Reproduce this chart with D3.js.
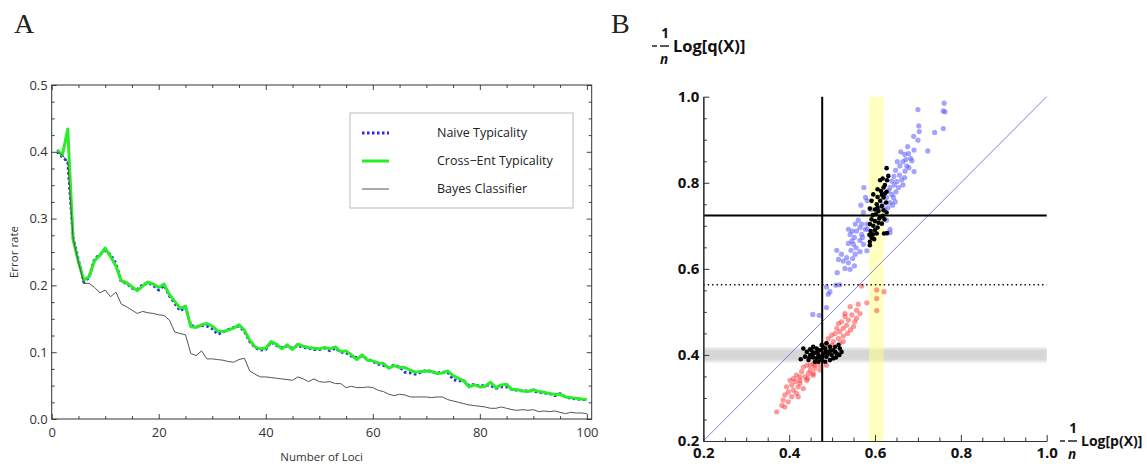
<!DOCTYPE html>
<html>
<head>
<meta charset="utf-8">
<script src="https://cdn.jsdelivr.net/npm/d3@7"></script>
<style>
  body { margin: 0; background: #fff; }
  text { font-family: "Open Sans", sans-serif; }
</style>
</head>
<body>
<script>
// ---- panel A data: error rate vs number of loci
const loci = d3.range(1, 101);
const naiveTyp = [
  0.400, 0.392, 0.385, 0.272, 0.238, 0.205, 0.212, 0.240, 0.246, 0.252,
  0.246, 0.233, 0.205, 0.203, 0.196, 0.194, 0.201, 0.204, 0.200, 0.193,
  0.200, 0.184, 0.173, 0.162, 0.167, 0.140, 0.138, 0.140, 0.139, 0.135,
  0.127, 0.130, 0.134, 0.137, 0.139, 0.131, 0.116, 0.107, 0.103, 0.104,
  0.115, 0.110, 0.107, 0.109, 0.106, 0.110, 0.107, 0.106, 0.104, 0.104,
  0.106, 0.102, 0.106, 0.100, 0.099, 0.094, 0.092, 0.094, 0.090, 0.086,
  0.082, 0.080, 0.077, 0.081, 0.078, 0.070, 0.069, 0.067, 0.070, 0.073,
  0.071, 0.069, 0.070, 0.070, 0.059, 0.057, 0.057, 0.050, 0.052, 0.049,
  0.051, 0.050, 0.046, 0.048, 0.048, 0.044, 0.043, 0.042, 0.042, 0.042,
  0.040, 0.039, 0.038, 0.035, 0.038, 0.033, 0.031, 0.030, 0.029, 0.029
];
const crossEntTyp = [
  0.403, 0.395, 0.434, 0.268, 0.235, 0.208, 0.213, 0.237, 0.245, 0.256,
  0.243, 0.229, 0.207, 0.204, 0.198, 0.192, 0.199, 0.205, 0.202, 0.197,
  0.202, 0.186, 0.176, 0.166, 0.169, 0.138, 0.137, 0.141, 0.143, 0.139,
  0.132, 0.131, 0.133, 0.136, 0.141, 0.133, 0.118, 0.108, 0.105, 0.106,
  0.116, 0.112, 0.105, 0.111, 0.104, 0.112, 0.109, 0.107, 0.106, 0.105,
  0.107, 0.105, 0.108, 0.101, 0.102, 0.096, 0.089, 0.096, 0.088, 0.087,
  0.084, 0.083, 0.076, 0.080, 0.077, 0.077, 0.073, 0.070, 0.071, 0.072,
  0.071, 0.068, 0.069, 0.072, 0.065, 0.061, 0.057, 0.048, 0.051, 0.048,
  0.049, 0.055, 0.047, 0.051, 0.052, 0.044, 0.044, 0.042, 0.041, 0.044,
  0.041, 0.040, 0.038, 0.037, 0.037, 0.033, 0.032, 0.031, 0.030, 0.029
];
const bayesClf = [
  0.400, 0.395, 0.385, 0.270, 0.235, 0.203, 0.203, 0.197, 0.189, 0.193,
  0.183, 0.190, 0.172, 0.168, 0.163, 0.158, 0.161, 0.159, 0.158, 0.156,
  0.155, 0.148, 0.130, 0.128, 0.126, 0.098, 0.095, 0.102, 0.090, 0.090,
  0.089, 0.088, 0.086, 0.085, 0.089, 0.091, 0.072, 0.067, 0.063, 0.063,
  0.062, 0.061, 0.060, 0.059, 0.058, 0.063, 0.060, 0.056, 0.060, 0.056,
  0.055, 0.056, 0.053, 0.053, 0.047, 0.049, 0.047, 0.047, 0.048, 0.047,
  0.043, 0.041, 0.037, 0.035, 0.037, 0.036, 0.033, 0.033, 0.033, 0.033,
  0.032, 0.033, 0.033, 0.029, 0.027, 0.025, 0.023, 0.021, 0.020, 0.019,
  0.018, 0.016, 0.016, 0.018, 0.016, 0.014, 0.013, 0.014, 0.013, 0.014,
  0.011, 0.012, 0.011, 0.012, 0.010, 0.008, 0.010, 0.009, 0.009, 0.008
];
const seriesNames = ["Naive Typicality", "Cross\u2212Ent Typicality", "Bayes Classifier"];
const xTicksA = [0, 20, 40, 60, 80, 100];
const yTicksA = [0.0, 0.1, 0.2, 0.3, 0.4, 0.5];

// ---- panel B data: [-1/n log p(X), -1/n log q(X)]
const bluePts = [
  [0.761,0.985],[0.759,0.967],[0.763,0.965],[0.759,0.926],[0.700,0.970],[0.702,0.932],[0.703,0.919],
  [0.739,0.917],[0.690,0.908],[0.700,0.899],[0.676,0.884],[0.691,0.876],[0.723,0.874],[0.660,0.872],
  [0.669,0.866],[0.678,0.868],[0.683,0.857],[0.686,0.851],[0.672,0.854],[0.665,0.849],[0.652,0.849],
  [0.658,0.839],[0.674,0.839],[0.679,0.835],[0.691,0.826],[0.670,0.827],[0.648,0.829],[0.644,0.815],
  [0.657,0.818],[0.669,0.812],[0.662,0.807],[0.651,0.803],[0.639,0.804],[0.645,0.795],[0.665,0.795],
  [0.655,0.789],[0.635,0.789],[0.632,0.781],[0.649,0.779],[0.639,0.773],[0.627,0.766],[0.643,0.766],
  [0.635,0.754],[0.641,0.748],[0.647,0.756],[0.630,0.742],[0.622,0.738],[0.574,0.789],[0.578,0.766],
  [0.582,0.758],[0.567,0.748],[0.573,0.731],[0.591,0.738],[0.612,0.742],[0.619,0.750],[0.581,0.704],
  [0.561,0.713],[0.569,0.704],[0.554,0.704],[0.565,0.696],[0.557,0.688],[0.547,0.688],[0.538,0.692],
  [0.569,0.680],[0.552,0.673],[0.565,0.666],[0.546,0.665],[0.538,0.659],[0.573,0.657],[0.556,0.649],
  [0.544,0.643],[0.554,0.634],[0.565,0.640],[0.581,0.642],[0.548,0.624],[0.534,0.626],[0.526,0.618],
  [0.538,0.614],[0.552,0.607],[0.542,0.599],[0.530,0.601],[0.515,0.622],[0.511,0.643],[0.522,0.634],
  [0.512,0.591],[0.582,0.692],[0.542,0.680],[0.635,0.684],[0.627,0.713],[0.635,0.692],[0.577,0.692],
  [0.571,0.673],[0.550,0.657],[0.487,0.558],[0.495,0.547],[0.491,0.541],[0.518,0.563],[0.509,0.562],
  [0.487,0.510],[0.455,0.494],[0.470,0.492]
];
const redPts = [
  [0.604,0.551],[0.621,0.547],[0.604,0.531],[0.604,0.503],[0.569,0.560],[0.581,0.521],[0.561,0.518],
  [0.557,0.504],[0.542,0.512],[0.565,0.496],[0.546,0.493],[0.530,0.496],[0.538,0.481],[0.553,0.477],
  [0.522,0.477],[0.515,0.473],[0.534,0.469],[0.550,0.466],[0.526,0.462],[0.511,0.462],[0.518,0.454],
  [0.536,0.450],[0.543,0.458],[0.507,0.450],[0.499,0.446],[0.526,0.444],[0.515,0.438],[0.491,0.438],
  [0.503,0.431],[0.526,0.431],[0.487,0.427],[0.518,0.427],[0.484,0.419],[0.499,0.423],[0.476,0.423],
  [0.464,0.384],[0.456,0.380],[0.449,0.376],[0.441,0.376],[0.472,0.376],[0.460,0.369],[0.433,0.372],
  [0.449,0.365],[0.429,0.361],[0.445,0.357],[0.425,0.349],[0.417,0.353],[0.456,0.353],[0.410,0.345],
  [0.437,0.349],[0.402,0.341],[0.414,0.338],[0.425,0.334],[0.441,0.341],[0.406,0.330],[0.421,0.326],
  [0.394,0.326],[0.433,0.322],[0.410,0.318],[0.398,0.314],[0.417,0.311],[0.390,0.307],[0.406,0.303],
  [0.421,0.303],[0.386,0.295],[0.398,0.291],[0.383,0.283],[0.390,0.279],[0.371,0.268],[0.456,0.357],
  [0.468,0.388],[0.480,0.396],[0.487,0.376],[0.472,0.365],[0.460,0.376],[0.443,0.345],[0.425,0.341],
  [0.499,0.411],[0.491,0.407],[0.530,0.489],[0.557,0.485]
];
const blackHigh = [
  [0.627,0.834],[0.631,0.816],[0.618,0.810],[0.612,0.806],[0.628,0.806],[0.623,0.795],[0.620,0.789],
  [0.606,0.785],[0.614,0.781],[0.627,0.779],[0.596,0.773],[0.606,0.767],[0.620,0.766],[0.626,0.754],
  [0.592,0.758],[0.612,0.758],[0.604,0.750],[0.616,0.746],[0.588,0.740],[0.600,0.738],[0.608,0.734],
  [0.620,0.736],[0.627,0.731],[0.595,0.725],[0.602,0.727],[0.612,0.721],[0.622,0.715],[0.592,0.715],
  [0.600,0.711],[0.608,0.707],[0.616,0.705],[0.588,0.704],[0.596,0.700],[0.606,0.696],[0.590,0.688],
  [0.600,0.690],[0.595,0.680],[0.587,0.679],[0.604,0.682],[0.621,0.682],[0.628,0.683],[0.592,0.672],
  [0.588,0.663],[0.598,0.669],[0.588,0.655],[0.610,0.717],[0.618,0.723],[0.606,0.742],[0.623,0.775],
  [0.616,0.772]
];
const blackLow = [
  [0.433,0.415],[0.427,0.390],[0.441,0.407],[0.449,0.400],[0.452,0.411],[0.456,0.394],[0.460,0.405],
  [0.464,0.415],[0.468,0.400],[0.472,0.411],[0.476,0.423],[0.476,0.388],[0.480,0.403],[0.484,0.415],
  [0.487,0.396],[0.491,0.407],[0.495,0.419],[0.495,0.388],[0.499,0.400],[0.503,0.411],[0.507,0.419],
  [0.511,0.403],[0.518,0.415],[0.522,0.407],[0.515,0.423],[0.468,0.384],[0.460,0.384],[0.445,0.388],
  [0.456,0.419],[0.484,0.384],[0.487,0.427],[0.503,0.392],[0.472,0.394],[0.464,0.392],[0.449,0.413],
  [0.437,0.396],[0.455,0.402],[0.490,0.402],[0.509,0.394],[0.480,0.417],[0.466,0.407],[0.497,0.410],
  [0.477,0.396],[0.485,0.407],[0.507,0.407],[0.517,0.400],[0.447,0.394]
];
const yellowBand = [0.586, 0.62];   // x range
const grayBand = [0.381, 0.419];    // y range
const vLineP = 0.477, hLineQ = 0.724, dottedQ = 0.563;
const ticksB = [0.2, 0.4, 0.6, 0.8, 1.0];

const svg = d3.select("body").append("svg")
    .attr("width", 1147)
    .attr("height", 466);

// =============== Panel A ===============
const xA = d3.scaleLinear().domain([0, 100.9]).range([51.7, 591.7]);
const yA = d3.scaleLinear().domain([0, 0.5]).range([419, 85]);
const gA = svg.append("g").attr("id", "panel-a");

svg.append("text").attr("x", 14).attr("y", 33)
    .style("font-family", "'Liberation Serif', serif").attr("font-size", 28)
    .attr("fill", "#222").text("A");

// frame ticks on all four sides (inward)
function frameAxis(axisFn, scale, ticks, size, withLabels, transform) {
  const ax = axisFn(scale).tickValues(ticks).tickSizeInner(-size).tickSizeOuter(0);
  if (!withLabels) ax.tickFormat("");
  else ax.tickFormat(d3.format(".1f"));
  const g = gA.append("g").attr("transform", transform).call(ax);
  g.select(".domain").remove();
  g.selectAll("line").attr("stroke", "#444");
  g.selectAll("text").attr("font-size", 13).attr("fill", "#333")
    .style("font-family", "'Open Sans', sans-serif");
  return g;
}
const xMinor = d3.range(0, 101, 5).filter(d => d % 20 !== 0);
const yMinor = d3.range(0, 0.5001, 0.025).filter((d, i) => i % 4 !== 0);

const xb = frameAxis(d3.axisBottom, xA, xTicksA, 5, true, "translate(0,419)");
xb.selectAll(".tick text").text(d => d).attr("y", 6).attr("dy", "0.95em");
frameAxis(d3.axisBottom, xA, xMinor, 3, false, "translate(0,419)");
frameAxis(d3.axisTop, xA, xTicksA, 5, false, "translate(0,85)");
frameAxis(d3.axisTop, xA, xMinor, 3, false, "translate(0,85)");
const yl = frameAxis(d3.axisLeft, yA, yTicksA, 5, true, "translate(51.7,0)");
yl.selectAll(".tick text").attr("x", -4);
frameAxis(d3.axisLeft, yA, yMinor, 3, false, "translate(51.7,0)");
frameAxis(d3.axisRight, yA, yTicksA, 5, false, "translate(591.7,0)");
frameAxis(d3.axisRight, yA, yMinor, 3, false, "translate(591.7,0)");

gA.append("rect")
    .attr("x", xA(0)).attr("y", yA(0.5))
    .attr("width", xA(100.9) - xA(0)).attr("height", yA(0) - yA(0.5))
    .attr("fill", "none").attr("stroke", "#333").attr("stroke-width", 1);

const lineA = d3.line().x((d, i) => xA(loci[i])).y(d => yA(d));
const styles = [
  {stroke: "rgb(40,40,235)", width: 2.8, dash: "2.5,2.5"},
  {stroke: "rgb(40,238,40)", width: 3, dash: null},
  {stroke: "#555", width: 1, dash: null}
];
[naiveTyp, crossEntTyp, bayesClf].forEach((s, k) => {
  gA.append("path").datum(s)
    .attr("d", lineA)
    .attr("fill", "none")
    .attr("stroke", styles[k].stroke)
    .attr("stroke-width", styles[k].width)
    .attr("stroke-dasharray", styles[k].dash)
    .attr("stroke-linejoin", "round");
});

// legend
const leg = gA.append("g").attr("transform", "translate(350,113)");
leg.append("rect").attr("width", 223).attr("height", 95)
    .attr("fill", "#fff").attr("stroke", "#bbb").attr("stroke-width", 1);
seriesNames.forEach((name, k) => {
  const y = 20 + k * 28;
  leg.append("line").attr("x1", 12).attr("x2", 39).attr("y1", y).attr("y2", y)
    .attr("stroke", styles[k].stroke).attr("stroke-width", styles[k].width)
    .attr("stroke-dasharray", styles[k].dash);
  leg.append("text").attr("x", 87).attr("y", y).attr("dy", "0.35em")
    .attr("font-size", 12.5).attr("fill", "#222").text(name);
});

gA.append("text")
    .attr("transform", "rotate(-90)")
    .attr("x", -252).attr("y", 18)
    .attr("font-size", 11.5).attr("fill", "#333")
    .style("text-anchor", "middle").text("Error rate");
gA.append("text")
    .attr("x", 321.7).attr("y", 461)
    .attr("font-size", 11.5).attr("fill", "#333")
    .style("text-anchor", "middle").text("Number of Loci");

// =============== Panel B ===============
const xB = d3.scaleLinear().domain([0.2, 1.0]).range([703.3, 1046.7]);
const yB = d3.scaleLinear().domain([0.2, 1.0]).range([441, 96.7]);
const gB = svg.append("g").attr("id", "panel-b");

svg.append("text").attr("x", 611).attr("y", 33)
    .style("font-family", "'Liberation Serif', serif").attr("font-size", 28)
    .attr("fill", "#222").text("B");

const defs = svg.append("defs");
const grad = defs.append("linearGradient").attr("id", "grayfade")
    .attr("x1", 0).attr("y1", 0).attr("x2", 0).attr("y2", 1);
grad.append("stop").attr("offset", "0%").attr("stop-color", "#d6d6d6").attr("stop-opacity", 0.2);
grad.append("stop").attr("offset", "25%").attr("stop-color", "#d6d6d6").attr("stop-opacity", 1);
grad.append("stop").attr("offset", "75%").attr("stop-color", "#d6d6d6").attr("stop-opacity", 1);
grad.append("stop").attr("offset", "100%").attr("stop-color", "#d6d6d6").attr("stop-opacity", 0.2);

gB.append("rect")
    .attr("x", xB(0.2)).attr("y", yB(grayBand[1]))
    .attr("width", xB(1.0) - xB(0.2)).attr("height", yB(grayBand[0]) - yB(grayBand[1]))
    .attr("fill", "url(#grayfade)");
gB.append("rect")
    .attr("x", xB(yellowBand[0])).attr("y", yB(1.0))
    .attr("width", xB(yellowBand[1]) - xB(yellowBand[0])).attr("height", yB(0.2) - yB(1.0))
    .attr("fill", "#ffff88").attr("opacity", 0.55);

gB.append("line")
    .attr("x1", xB(0.2)).attr("y1", yB(0.2)).attr("x2", xB(1.0)).attr("y2", yB(1.0))
    .attr("stroke", "rgb(125,125,240)").attr("stroke-width", 1);

function dots(data, fill, opacity, r) {
  gB.append("g").selectAll("circle").data(data).enter().append("circle")
    .attr("cx", d => xB(d[0])).attr("cy", d => yB(d[1]))
    .attr("r", r).attr("fill", fill).attr("opacity", opacity);
}
dots(redPts, "rgb(255,50,50)", 0.5, 2.6);
dots(bluePts, "rgb(80,80,255)", 0.52, 2.6);
dots(blackLow, "#000", 1, 2.3);
dots(blackHigh, "#000", 1, 2.3);

// reference lines
gB.append("line")
    .attr("x1", xB(0.2)).attr("x2", xB(1.0)).attr("y1", yB(dottedQ)).attr("y2", yB(dottedQ))
    .attr("stroke", "#000").attr("stroke-width", 1.4).attr("stroke-dasharray", "1.4,3");
gB.append("line")
    .attr("x1", xB(0.2)).attr("x2", xB(1.0)).attr("y1", yB(hLineQ)).attr("y2", yB(hLineQ))
    .attr("stroke", "#000").attr("stroke-width", 2);
gB.append("line")
    .attr("x1", xB(vLineP)).attr("x2", xB(vLineP)).attr("y1", yB(0.2)).attr("y2", yB(1.0))
    .attr("stroke", "#000").attr("stroke-width", 2);

// axes
const minorB = d3.range(0.2, 1.0001, 0.05).filter((d, i) => i % 4 !== 0);
function axisB(axisFn, ticks, size, labels, transform) {
  const sc = (axisFn === d3.axisBottom) ? xB : yB;
  const ax = axisFn(sc).tickValues(ticks).tickSizeInner(-size).tickSizeOuter(0)
    .tickFormat(labels ? d3.format(".1f") : "");
  const g = gB.append("g").attr("transform", transform).call(ax);
  g.select(".domain").attr("stroke", "#333").attr("stroke-width", 1.2);
  g.selectAll("line").attr("stroke", "#333");
  g.selectAll("text").attr("font-size", 15).attr("font-weight", "bold").attr("fill", "#111")
    .style("font-family", "'Open Sans', sans-serif");
  return g;
}
axisB(d3.axisBottom, minorB, 3.5, false, `translate(0,${yB(0.2)})`);
const bx = axisB(d3.axisBottom, ticksB, 6, true, `translate(0,${yB(0.2)})`);
bx.selectAll(".tick text").attr("y", 6);
axisB(d3.axisLeft, minorB, 3.5, false, `translate(${xB(0.2)},0)`);
const by = axisB(d3.axisLeft, ticksB, 6, true, `translate(${xB(0.2)},0)`);
by.selectAll(".tick text").attr("x", -4);

// axis labels  -(1/n) Log[...]
function fracLabel(x0, yMid, word, size) {
  const g = gB.append("g").attr("fill", "#111").attr("font-weight", "bold");
  g.append("line").attr("x1", x0).attr("x2", x0 + 5).attr("y1", yMid).attr("y2", yMid)
    .attr("stroke", "#111").attr("stroke-width", 1.4);
  g.append("line").attr("x1", x0 + 8).attr("x2", x0 + 17).attr("y1", yMid).attr("y2", yMid)
    .attr("stroke", "#111").attr("stroke-width", 1.4);
  g.append("text").attr("x", x0 + 13).attr("y", yMid - 8).attr("font-size", 13.5)
    .style("text-anchor", "middle").text("1");
  g.append("text").attr("x", x0 + 12).attr("y", yMid + 18).attr("font-size", 13.5)
    .attr("font-style", "italic").style("text-anchor", "middle").text("n");
  g.append("text").attr("x", x0 + 21).attr("y", yMid + size * 0.38).attr("font-size", size).text(word);
}
fracLabel(652, 46, "Log[q(X)]", 16.5);
fracLabel(1060, 441, "Log[p(X)]", 14);
</script>
</body>
</html>
